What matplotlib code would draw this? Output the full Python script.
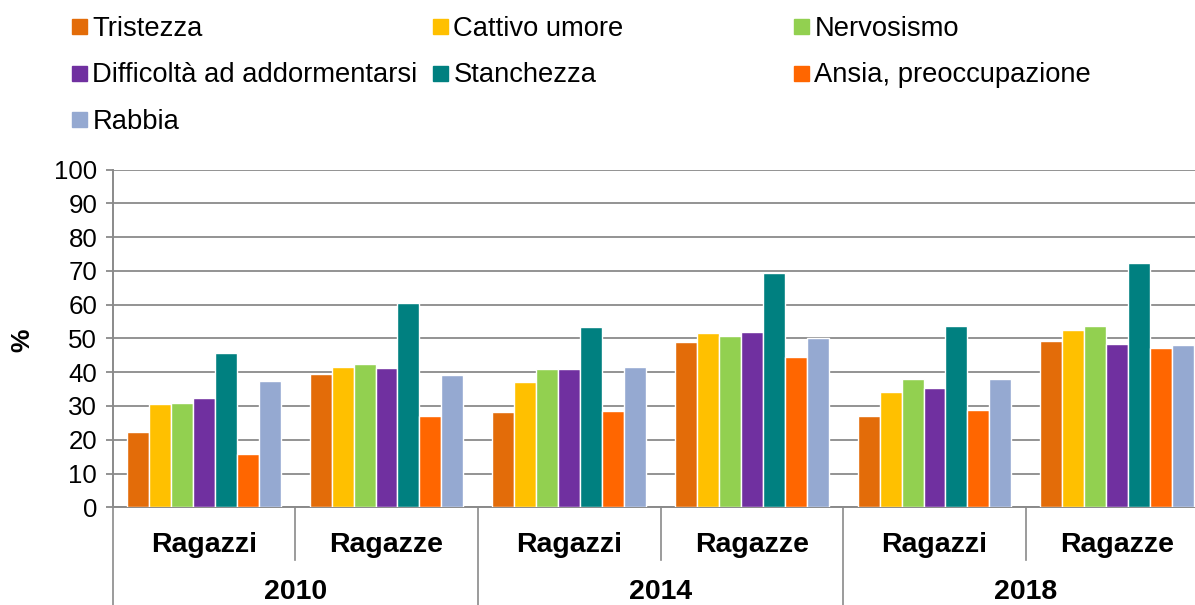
import numpy as np
import matplotlib
matplotlib.use("Agg")
import matplotlib.pyplot as plt
from matplotlib.patches import Rectangle

plt.rcParams["font.family"] = ["Liberation Sans", "DejaVu Sans"]

# Data (percent)
years = ["2010", "2014", "2018"]
genders = ["Ragazzi", "Ragazze"]
symptoms = ["Tristezza", "Cattivo umore", "Nervosismo", "Difficoltà ad addormentarsi",
            "Stanchezza", "Ansia, preoccupazione", "Rabbia"]
colors = ["#E36C09", "#FFC000", "#92D050", "#7030A0", "#008080", "#FF6600", "#95A9D1"]

# one list per symptom, order: 2010 M, 2010 F, 2014 M, 2014 F, 2018 M, 2018 F
tristezza = [22.4, 39.5, 28.2, 48.8, 27.0, 49.2]
cattivo_umore = [30.6, 41.4, 37.2, 51.5, 34.1, 52.5]
nervosismo = [30.8, 42.4, 40.9, 50.7, 37.9, 53.6]
difficolta = [32.3, 41.3, 40.8, 51.8, 35.2, 48.3]
stanchezza = [45.6, 60.4, 53.3, 69.5, 53.6, 72.3]
ansia = [15.8, 26.9, 28.4, 44.4, 28.7, 47.1]
rabbia = [37.3, 39.3, 41.4, 50.2, 37.9, 47.9]
series = [tristezza, cattivo_umore, nervosismo, difficolta, stanchezza, ansia, rabbia]

W, H = 1195, 605
fig = plt.figure(figsize=(W / 100, H / 100), dpi=100)
ax = fig.add_axes([112.5 / W, (H - 507.3) / H, 1096 / W, 337.8 / H])

grid_c = "#8A8A8A"
n = len(series)
width = 0.1204
x = np.arange(len(tristezza)) + 0.5
for i, (vals, c) in enumerate(zip(series, colors)):
    ax.bar(x + (i - (n - 1) / 2) * width, vals, width, color=c,
           edgecolor="white", linewidth=1.0, zorder=3)

ax.set_xlim(0, 6)
ax.set_ylim(0, 100)
ax.set_yticks(np.arange(0, 101, 10))
ax.yaxis.grid(True, color=grid_c, linewidth=1.3, zorder=0)
ax.set_axisbelow(True)
ax.tick_params(axis="y", length=5, width=1.3, color=grid_c, pad=6, labelsize=18.6)
ax.set_xticks([])
for s in ["top", "right"]:
    ax.spines[s].set_visible(False)
for s in ["left", "bottom"]:
    ax.spines[s].set_color(grid_c)
    ax.spines[s].set_linewidth(1.4)

# hierarchical category axis
trans = ax.get_xaxis_transform()
for xs in [1, 3, 5]:
    ax.plot([xs, xs], [0, -0.156], transform=trans, color=grid_c, lw=1.2, clip_on=False)
for xs in [0, 2, 4, 6]:
    ax.plot([xs, xs], [0, -0.35], transform=trans, color=grid_c, lw=1.2, clip_on=False)
for k in range(6):
    ax.text(k + 0.5, -0.1332, genders[k % 2], transform=trans, ha="center",
            va="baseline", fontsize=20.5, fontweight="bold")
for k, yr in enumerate(years):
    ax.text(2 * k + 1, -0.270, yr, transform=trans, ha="center",
            va="baseline", fontsize=20.5, fontweight="bold")

fig.text(22 / W, 1 - 340 / H, "%", rotation=90, ha="center", va="center",
         fontsize=19, fontweight="bold")

# legend laid out in three columns, row-wise
col_x = [72, 433, 794]
row_base = [35.7, 82.3, 129.0]
for i, (name, c) in enumerate(zip(symptoms, colors)):
    r, col = divmod(i, 3)
    mx, by = col_x[col], row_base[r]
    fig.patches.append(Rectangle((mx / W, 1 - (by - 1.7) / H), 15 / W, 15 / H,
                                 transform=fig.transFigure, color=c))
    fig.text((mx + 20.5) / W, 1 - by / H, name, ha="left", va="baseline", fontsize=19.7)

fig.savefig("out.png", dpi=100)
